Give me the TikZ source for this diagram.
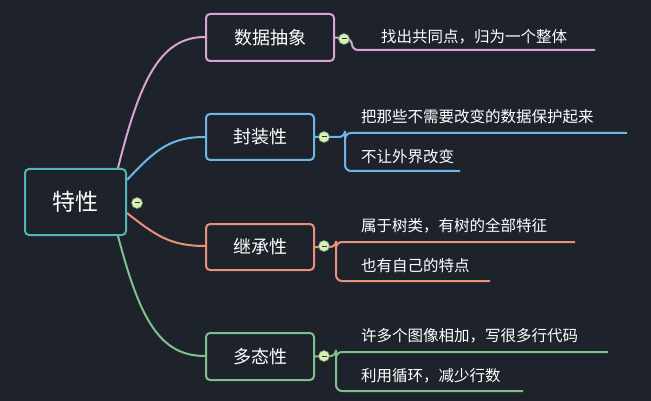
\documentclass[tikz,border=0pt]{standalone}
\usepackage{fontspec}
\setmainfont{Noto Sans CJK SC}
\begin{document}
\begin{tikzpicture}[x=1pt,y=-1pt]
\definecolor{bg}{HTML}{1E222B}
\definecolor{cteal}{HTML}{4FB5B5}
\definecolor{cpink}{HTML}{D9A3D2}
\definecolor{cblue}{HTML}{6DB6EA}
\definecolor{csal}{HTML}{E8917B}
\definecolor{cgreen}{HTML}{7FC08C}
\definecolor{cdot}{HTML}{D8F0B4}
\tikzset{
 box/.style={draw=#1,line width=2pt,rounded corners=4pt,fill=bg,text=white,font=\fontsize{18}{20}\selectfont,inner sep=0pt},
 link/.style={draw=#1,line width=2pt},
 leaf/.style={text=white,font=\fontsize{15.5}{17}\selectfont,anchor=west,inner sep=0pt},
 dot/.style={circle,fill=cdot,draw=cgreen!80!black,line width=0.6pt,minimum size=11pt,inner sep=0pt,
   path picture={\draw[line width=1pt,black!80] ([xshift=-2.5pt]path picture bounding box.center)--([xshift=2.5pt]path picture bounding box.center);}}
}
\fill[bg] (0,0) rectangle (651,401);
\useasboundingbox (0,0) rectangle (651,401);
\draw[link=cpink] (118,168) .. controls (140,80) and (160,37) .. (205,37);
\draw[link=cblue] (127,180) .. controls (155,150) and (170,137) .. (205,137);
\draw[link=csal] (127,213) .. controls (155,235) and (170,246) .. (205,246);
\draw[link=cgreen] (118,236) .. controls (140,320) and (160,356) .. (205,356);
\node[box=cteal,minimum width=101pt,minimum height=66pt,font=\fontsize{23}{25}\selectfont] (root) at (75.5,202) {特性};
\node[box=cpink,minimum width=128pt,minimum height=47pt] (b1) at (270,37.5) {数据抽象};
\node[box=cblue,minimum width=108pt,minimum height=46pt] (b2) at (260,137) {封装性};
\node[box=csal,minimum width=108pt,minimum height=46pt] (b3) at (260,247) {继承性};
\node[box=cgreen,minimum width=108pt,minimum height=47pt] (b4) at (260,356.5) {多态性};
\draw[link=cpink,rounded corners=6pt] (b1.east) -- (352,39) |- (595,50);
\node[leaf] (l1) at (381,37) {找出共同点，归为一个整体};
\draw[link=cblue,rounded corners=6pt] (b2.east) -- (345,137) |- (627,133);
\draw[link=cblue,rounded corners=6pt] (345,137) |- (460,171);
\node[leaf] (l2) at (361,117) {把那些不需要改变的数据保护起来};
\node[leaf] (l3) at (361,157) {不让外界改变};
\draw[link=csal,rounded corners=6pt] (b3.east) -- (336,247) |- (575,242);
\draw[link=csal,rounded corners=6pt] (336,247) |- (490,281);
\node[leaf] (l4) at (361,226) {属于树类，有树的全部特征};
\node[leaf] (l5) at (361,266) {也有自己的特点};
\draw[link=cgreen,rounded corners=6pt] (b4.east) -- (336,356) |- (608,352);
\draw[link=cgreen,rounded corners=6pt] (336,356) |- (523,391);
\node[leaf] (l6) at (361,336) {许多个图像相加，写很多行代码};
\node[leaf] (l7) at (361,376) {利用循环，减少行数};
\node[dot] (d0) at (137,203) {};
\node[dot] (d1) at (344,39) {};
\node[dot] (d2) at (324,137) {};
\node[dot] (d3) at (324,246) {};
\node[dot] (d4) at (324,356) {};
\end{tikzpicture}
\end{document}
